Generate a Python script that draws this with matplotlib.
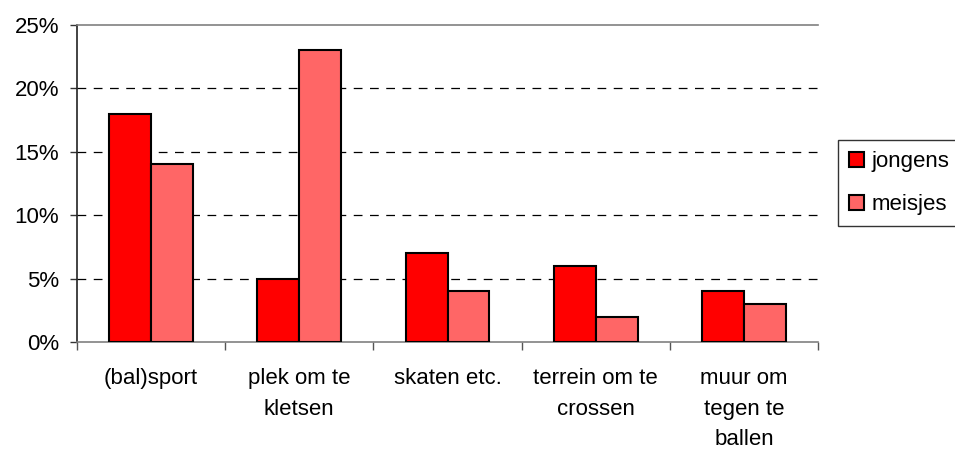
import numpy as np
from matplotlib import pyplot as plt

categories = ['(bal)sport', 'plek om te\nkletsen', 'skaten etc.',
              'terrein om te\ncrossen', 'muur om\ntegen te\nballen']
jongens = [18, 5, 7, 6, 4]
meisjes = [14, 23, 4, 2, 3]
yticks = [0, 5, 10, 15, 20, 25]

plt.rcParams['font.family'] = ['Liberation Sans', 'DejaVu Sans']
fs = 16

fig = plt.figure(figsize=(9.55, 4.51), dpi=100)
ax = fig.add_axes([0.0806, 0.2417, 0.776, 0.703])

x = np.arange(len(categories))
w = 0.283
b1 = ax.bar(x - w / 2, jongens, w, color='#ff0000', edgecolor='black', linewidth=1.5,
            label='jongens', zorder=3)
b2 = ax.bar(x + w / 2, meisjes, w, color='#ff6666', edgecolor='black', linewidth=1.5,
            label='meisjes', zorder=3)

ax.set_xlim(-0.5, len(categories) - 0.5)
ax.set_ylim(0, 25)
ax.set_yticks(yticks)
ax.set_yticklabels([f'{v}%' for v in yticks], fontsize=fs)
for v in yticks[1:-1]:
    ax.axhline(v, color='black', linestyle=(0, (7, 6)), linewidth=0.9, zorder=1)

ax.set_xticks(x)
ax.set_xticklabels(categories, fontsize=fs, linespacing=1.58)
ax.tick_params(axis='x', which='major', length=0, pad=19)
ax.set_xticks(np.arange(-0.5, len(categories), 1), minor=True)
ax.tick_params(axis='x', which='minor', length=6, color='#555555', width=1)
ax.tick_params(axis='y', length=5, width=1, color='#333333', pad=8)

ax.spines['right'].set_visible(False)
ax.spines['top'].set_color('#808080')
ax.spines['bottom'].set_color('#808080')
ax.spines['left'].set_color('#222222')
for s in ax.spines.values():
    s.set_linewidth(1.2)

fig.legend(handles=[b1, b2], loc='upper left', bbox_to_anchor=(0.8775, 0.69),
           fontsize=fs, frameon=True, fancybox=False, edgecolor='black',
           handlelength=0.65, handleheight=0.65, handletextpad=0.35,
           labelspacing=1.0, borderpad=0.5, borderaxespad=0)
fig.legends[0].get_frame().set_linewidth(1)

fig.savefig('out.png', dpi=100)
